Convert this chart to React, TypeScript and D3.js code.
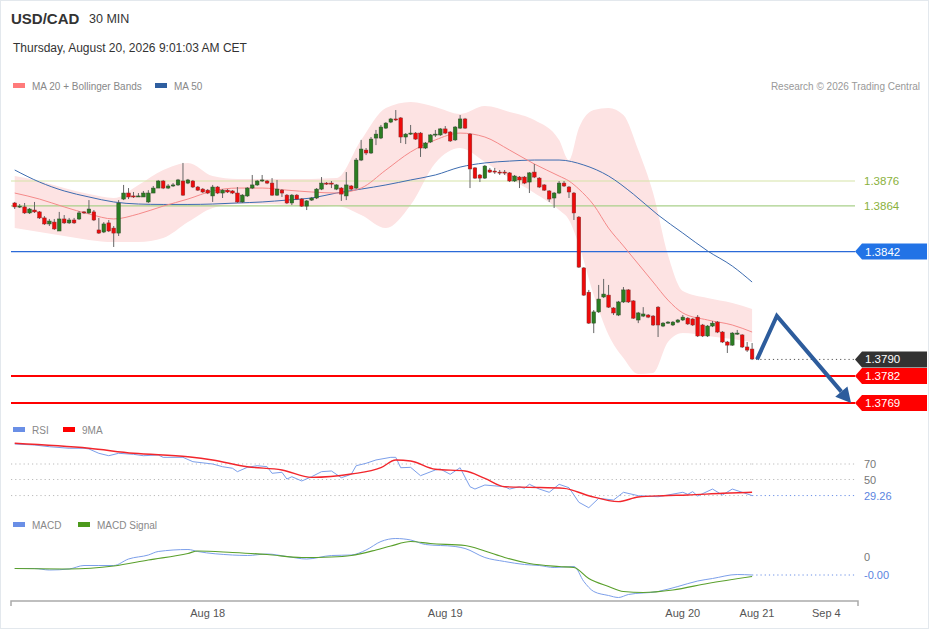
import React from "react";
import * as d3 from "d3";

// 30 min candles, USD/CAD
const opens = [
  1.38654, 1.38635, 1.38635, 1.38606, 1.3862, 1.38611, 1.38582, 1.38553, 1.38562, 1.38519,
  1.38577, 1.38558, 1.38572, 1.38577, 1.38611, 1.38606, 1.38611, 1.38524, 1.38514, 1.38558,
  1.38533, 1.38509, 1.38673, 1.38702, 1.38688, 1.38683, 1.38683, 1.38659, 1.38702, 1.38726,
  1.3876, 1.38726, 1.38736, 1.38741, 1.3876, 1.3875, 1.3876, 1.38731, 1.38721, 1.38716,
  1.38688, 1.38731, 1.38702, 1.38716, 1.38712, 1.38702, 1.38659, 1.38688, 1.38726, 1.38741,
  1.3876, 1.3876, 1.3875, 1.38692, 1.38716, 1.38692, 1.38654, 1.38692, 1.38673, 1.38639,
  1.38668, 1.38678, 1.38721, 1.3875, 1.3875, 1.38721, 1.38726, 1.38688, 1.38736, 1.38726,
  1.38861, 1.38909, 1.38895, 1.38967, 1.38967, 1.39015, 1.39044, 1.39059, 1.39064, 1.38972,
  1.38986, 1.38991, 1.38991, 1.38919, 1.38948, 1.38982, 1.38982, 1.39011, 1.38996, 1.38958,
  1.39015, 1.39059, 1.38986, 1.38823, 1.38789, 1.38774, 1.38813, 1.38808, 1.38803, 1.38803,
  1.38799, 1.3876, 1.38779, 1.38779, 1.38755, 1.38803, 1.38774, 1.38741, 1.38712, 1.38678,
  1.38702, 1.3875, 1.38731, 1.38702, 1.38586, 1.38341, 1.38224, 1.38075, 1.38129, 1.38201,
  1.3821, 1.38148, 1.38114, 1.38177, 1.38235, 1.38182, 1.3809, 1.38109, 1.38114, 1.38109,
  1.38152, 1.38061, 1.38075, 1.38066, 1.3808, 1.3809, 1.38099, 1.38095, 1.38104, 1.38066,
  1.38013, 1.38061, 1.3808, 1.38032, 1.37984, 1.37969, 1.38022, 1.38018, 1.3796, 1.3795,
];
const highs = [
  1.38659, 1.38649, 1.38654, 1.3863, 1.38659, 1.38615, 1.38591, 1.38577, 1.38577, 1.38611,
  1.38596, 1.38582, 1.38582, 1.38615, 1.38615, 1.38668, 1.3862, 1.38582, 1.38562, 1.38572,
  1.38543, 1.38668, 1.38741, 1.38726, 1.38707, 1.38702, 1.38712, 1.38716, 1.38736, 1.38765,
  1.38765, 1.38745, 1.3875, 1.3877, 1.38847, 1.3877, 1.38765, 1.38736, 1.38726, 1.38721,
  1.38741, 1.38736, 1.38721, 1.38721, 1.38716, 1.38731, 1.38697, 1.38731, 1.38789, 1.38765,
  1.38789, 1.38765, 1.38774, 1.38765, 1.38721, 1.38697, 1.38697, 1.38697, 1.38678, 1.38668,
  1.38683, 1.38726, 1.38779, 1.38755, 1.3876, 1.38745, 1.38731, 1.38803, 1.38741, 1.38871,
  1.38958, 1.38919, 1.38972, 1.39006, 1.3903, 1.39044, 1.39064, 1.39102, 1.39068, 1.38991,
  1.3903, 1.38996, 1.38996, 1.38948, 1.38986, 1.39006, 1.39015, 1.39025, 1.39001, 1.39025,
  1.39078, 1.39064, 1.38991, 1.38827, 1.38794, 1.38837, 1.38823, 1.38823, 1.38813, 1.38813,
  1.38803, 1.38789, 1.38784, 1.38784, 1.38803, 1.38842, 1.38779, 1.38745, 1.38716, 1.38707,
  1.3876, 1.3876, 1.38736, 1.38707, 1.38591, 1.38345, 1.38235, 1.38138, 1.38259, 1.38288,
  1.38259, 1.38152, 1.38182, 1.38249, 1.38239, 1.38186, 1.38129, 1.38152, 1.38119, 1.38114,
  1.38157, 1.3808, 1.38085, 1.38085, 1.38095, 1.38114, 1.38104, 1.38099, 1.38114, 1.38071,
  1.38066, 1.38085, 1.38085, 1.38037, 1.37989, 1.38032, 1.38042, 1.38022, 1.37984, 1.37979,
];
const lows = [
  1.38625, 1.3863, 1.38601, 1.38601, 1.38606, 1.38577, 1.38548, 1.38543, 1.38524, 1.38519,
  1.38553, 1.38553, 1.38553, 1.38572, 1.38601, 1.38601, 1.38567, 1.38505, 1.38509, 1.38514,
  1.38442, 1.38495, 1.38668, 1.38673, 1.38678, 1.38683, 1.38683, 1.38654, 1.38702, 1.38726,
  1.38721, 1.38721, 1.38731, 1.38736, 1.38688, 1.38745, 1.38726, 1.38712, 1.38702, 1.38697,
  1.38659, 1.38697, 1.38678, 1.38702, 1.38697, 1.38654, 1.38654, 1.38683, 1.38721, 1.38736,
  1.38755, 1.38745, 1.38688, 1.38688, 1.38683, 1.38649, 1.38644, 1.38668, 1.38635, 1.3862,
  1.38664, 1.38673, 1.38716, 1.38741, 1.38726, 1.38716, 1.38664, 1.38668, 1.38716, 1.38721,
  1.38856, 1.38885, 1.3889, 1.38933, 1.38962, 1.39011, 1.39039, 1.39049, 1.38943, 1.38938,
  1.38982, 1.38958, 1.38876, 1.38914, 1.38943, 1.38972, 1.38977, 1.38986, 1.38948, 1.38953,
  1.39011, 1.39011, 1.38726, 1.3877, 1.38755, 1.3877, 1.38799, 1.38794, 1.38789, 1.38789,
  1.38755, 1.38755, 1.38726, 1.38745, 1.38702, 1.38774, 1.38726, 1.38712, 1.38659, 1.3863,
  1.38697, 1.38731, 1.38678, 1.38572, 1.38341, 1.38206, 1.38071, 1.38027, 1.38124, 1.38196,
  1.38148, 1.38114, 1.38109, 1.38172, 1.38172, 1.38095, 1.38075, 1.38104, 1.38099, 1.38061,
  1.38008, 1.38056, 1.38071, 1.38061, 1.38075, 1.38085, 1.38066, 1.38061, 1.38008, 1.38008,
  1.38008, 1.38056, 1.38027, 1.37979, 1.37931, 1.37965, 1.38018, 1.37955, 1.37936, 1.37897,
];
const closes = [
  1.38635, 1.38639, 1.38606, 1.38625, 1.38611, 1.38582, 1.38553, 1.38567, 1.38529, 1.38577,
  1.38558, 1.38572, 1.38558, 1.38606, 1.38606, 1.38625, 1.38572, 1.38509, 1.38553, 1.38519,
  1.38509, 1.38654, 1.38702, 1.38683, 1.38683, 1.38688, 1.38702, 1.38702, 1.38726, 1.3876,
  1.38726, 1.38736, 1.38741, 1.38765, 1.38692, 1.38765, 1.38731, 1.38716, 1.38707, 1.38702,
  1.38731, 1.38702, 1.38716, 1.38707, 1.38702, 1.38659, 1.38692, 1.38726, 1.38741, 1.3876,
  1.38765, 1.3875, 1.38692, 1.38721, 1.38702, 1.38654, 1.38692, 1.38673, 1.38639, 1.38664,
  1.38678, 1.38721, 1.3875, 1.38745, 1.38745, 1.38741, 1.38697, 1.38741, 1.38721, 1.38861,
  1.38914, 1.38895, 1.38962, 1.38986, 1.3902, 1.39039, 1.39059, 1.39054, 1.38972, 1.38986,
  1.38991, 1.38962, 1.38919, 1.38943, 1.38982, 1.38986, 1.39011, 1.38991, 1.38953, 1.3902,
  1.39059, 1.39015, 1.38818, 1.38774, 1.38774, 1.38832, 1.38803, 1.38803, 1.38799, 1.38799,
  1.3876, 1.38784, 1.38765, 1.3875, 1.38799, 1.38779, 1.38731, 1.38716, 1.38673, 1.38702,
  1.3875, 1.38736, 1.38707, 1.38606, 1.38345, 1.3821, 1.38075, 1.38129, 1.38191, 1.38215,
  1.38152, 1.38124, 1.38177, 1.38235, 1.38177, 1.38099, 1.38124, 1.38119, 1.38104, 1.38066,
  1.38066, 1.38075, 1.3808, 1.3808, 1.3809, 1.38104, 1.38071, 1.38066, 1.38013, 1.38013,
  1.38061, 1.38075, 1.38032, 1.37984, 1.37969, 1.38027, 1.38027, 1.3796, 1.37945, 1.37902,
];

// MA 20 + Bollinger bands, read at these bars
const bandBars = [0, 5, 10, 15, 20, 25, 30, 35, 40, 45, 50, 55, 60, 65, 70, 75, 80, 85, 90, 95, 100, 105, 110, 112, 114, 117, 120, 123, 126, 129, 132, 135, 140, 145, 149];
const ma20 = [
  1.38702, 1.38673, 1.38635, 1.38601, 1.38577, 1.38601, 1.38639, 1.38673, 1.38712, 1.38726,
  1.38726, 1.38716, 1.38707, 1.38702, 1.38726, 1.38813, 1.389, 1.38958, 1.38991, 1.38972,
  1.38909, 1.38842, 1.38784, 1.3876, 1.38721, 1.38644, 1.38533, 1.38447, 1.3836, 1.38273,
  1.38186, 1.38124, 1.3809, 1.38066, 1.38032,
];
const bbUpper = [
  1.38784, 1.3876, 1.38726, 1.38697, 1.38678, 1.38741, 1.38813, 1.38847, 1.38784, 1.3877,
  1.3877, 1.3877, 1.3877, 1.38774, 1.38958, 1.39112, 1.39141, 1.39117, 1.39083, 1.39121,
  1.39093, 1.39054, 1.38958, 1.38861, 1.39015, 1.39102, 1.39112, 1.39078, 1.38909, 1.38702,
  1.38403, 1.3823, 1.38196, 1.38172, 1.38143,
];
const bbLower = [
  1.38533, 1.38514, 1.38495, 1.38476, 1.38466, 1.38466, 1.38485, 1.38562, 1.3863, 1.38649,
  1.38649, 1.38644, 1.38635, 1.38639, 1.38596, 1.38533, 1.38644, 1.38847, 1.38919, 1.38852,
  1.38774, 1.38702, 1.3862, 1.38572, 1.38452, 1.3821, 1.38018, 1.37907, 1.3783, 1.37835,
  1.37984, 1.38027, 1.38013, 1.37998, 1.37984,
];

// MA 50
const ma50Bars = [0, 5, 10, 15, 20, 25, 30, 35, 40, 45, 50, 55, 60, 65, 70, 75, 80, 85, 90, 95, 100, 105, 110, 115, 120, 125, 130, 135, 140, 145, 149];
const ma50 = [
  1.38813, 1.38755, 1.38712, 1.38683, 1.38659, 1.38649, 1.38647, 1.38647, 1.38649, 1.38654,
  1.38659, 1.38668, 1.38678, 1.38702, 1.38721, 1.38741, 1.38765, 1.38789, 1.38827, 1.38847,
  1.38856, 1.38861, 1.38861, 1.38837, 1.38784, 1.38697, 1.38596, 1.38509, 1.38423, 1.3835,
  1.38273,
];

// key levels
const greenLevels = [1.3876, 1.3864];
const pivotLevel = 1.3842;
const lastPrice = 1.379;
const supportLevels = [1.3782, 1.3769];

// forecast path
const forecastBars = [150, 154, 169];
const forecastPrices = [1.379, 1.3811, 1.3769];

// RSI and its 9 period average
const rsiBars = [0, 4, 7, 11, 14, 15, 17, 19, 21, 24, 26, 29, 30, 34, 36, 40, 42, 44, 45, 47, 49, 51, 52, 54, 55, 56, 58, 60, 62, 64, 66, 68, 69, 71, 73, 76, 77, 78, 80, 82, 85, 86, 88, 90, 92, 93, 95, 99, 100, 102, 103, 104, 106, 108, 110, 112, 114, 116, 118, 121, 123, 126, 130, 132, 135, 136, 137, 138, 141, 143, 145, 147, 149];
const rsi = [95.8, 94.5, 92.3, 90.3, 90.3, 89.4, 83.8, 80.7, 83.8, 82.5, 80.7, 81.6, 78.6, 78.6, 73.0, 70.0, 66.5, 64.5, 60.1, 65.7, 67.8, 66.5, 58.0, 59.3, 50.6, 53.6, 48.1, 53.6, 60.1, 61.0, 52.3, 56.7, 67.8, 70.9, 75.2, 78.6, 78.6, 65.2, 65.7, 54.9, 62.3, 63.5, 56.7, 65.2, 40.7, 37.7, 42.9, 40.7, 37.7, 40.7, 38.6, 43.8, 37.7, 33.5, 43.8, 39.4, 20.6, 13.6, 25.7, 23.5, 33.5, 29.1, 27.8, 30.0, 33.5, 30.9, 34.3, 28.7, 37.7, 30.0, 37.7, 33.5, 29.26];
const rsiMaBars = [0, 15, 24, 35, 40, 47, 54, 60, 68, 74, 77, 80, 85, 91, 95, 99, 104, 111, 116, 122, 126, 131, 136, 143, 149];
const rsiMa = [96.7, 90.3, 83.8, 79.4, 75.2, 66.5, 62.3, 52.8, 57.1, 65.2, 75.2, 73.9, 63.2, 61.0, 51.5, 40.7, 39.9, 38.6, 29.1, 21.4, 27.4, 29.1, 30.0, 32.2, 33.5];
const rsiLevels = [70, 50];
const rsiLast = 29.26;

// MACD
const macdBars = [0, 4, 7, 11, 14, 17, 20, 23, 27, 29, 35, 37, 44, 47, 51, 55, 59, 64, 68, 71, 74, 77, 80, 83, 89, 91, 95, 99, 103, 106, 109, 113, 115, 117, 120, 122, 124, 130, 134, 138, 141, 146, 149];
const macd = [-0.00023, -0.00023, -0.00026, -0.00024, -0.00017, -0.00017, -0.00017, -0.00004, 0.00004, 0.00011, 0.00015, 0.00011, 0.00004, 0.00003, 0.00006, 0.00001, -0.00004, 0.00003, 0.00004, 0.00014, 0.00031, 0.00037, 0.00034, 0.00025, 0.00021, 0.00017, -0.00001, -0.00009, -0.00015, -0.00017, -0.00021, -0.00019, -0.00049, -0.00069, -0.00077, -0.00081, -0.00075, -0.00069, -0.00059, -0.00048, -0.00043, -0.00035, -0.00036];
const signalBars = [0, 11, 20, 27, 35, 37, 44, 51, 58, 64, 68, 73, 76, 80, 84, 91, 95, 99, 104, 110, 113, 116, 120, 123, 127, 133, 140, 149];
const signal = [-0.00023, -0.00024, -0.00018, -0.00006, 0.00007, 0.00012, 0.00009, 0.00005, -0.00001, 0.0, 0.00003, 0.00014, 0.00022, 0.00031, 0.00027, 0.00023, 0.00012, -0.00001, -0.00013, -0.00019, -0.00021, -0.00043, -0.00059, -0.00069, -0.00071, -0.00066, -0.00053, -0.00039];

// time axis
const xTickBars = [39, 87, 135, 150, 164];
const xTickLabels = ["Aug 18", "Aug 19", "Aug 20", "Aug 21", "Sep 4"];

const FONT = "'Liberation Sans', Arial, sans-serif";
const RIGHT = 855;

const x = d3.scaleLinear().domain([-0.75, 170.4]).range([11, 858]);
const yP = d3.scaleLinear().domain([1.3769, 1.3876]).range([403, 181]);
const yR = d3.scaleLinear().domain([50, 70]).range([479.5, 464]);
const yM = d3.scaleLinear().domain([0, 0.0002]).range([557, 547]);
const fmt = d3.format(".4f");

const linePath = (
  bars: number[],
  vals: number[],
  ys: (v: number) => number,
  curve: d3.CurveFactory = d3.curveMonotoneX
) =>
  d3
    .line<number>()
    .x((_, i) => x(bars[i]))
    .y((v) => ys(v))
    .curve(curve)(vals) || "";

const Tag = ({ y, text, fill }: { y: number; text: string; fill: string }) => (
  <g>
    <path
      d={`M${RIGHT},${y} L${RIGHT + 7},${y - 8} L927,${y - 8} L927,${y + 8} L${RIGHT + 7},${y + 8} Z`}
      fill={fill}
    />
    <text x={RIGHT + 10} y={y + 4} fill="#fff" fontSize={11.5}>
      {text}
    </text>
  </g>
);

const Legend = ({ x0, y, items }: { x0: number; y: number; items: { label: string; color: string; w: number }[] }) => {
  let cx = x0;
  return (
    <g fontSize={10} fill="#888">
      {items.map((it) => {
        const g = (
          <g key={it.label}>
            <rect x={cx} y={y - 3} width={12} height={5} fill={it.color} />
            <text x={cx + 19} y={y + 3.5}>
              {it.label}
            </text>
          </g>
        );
        cx += it.w;
        return g;
      })}
    </g>
  );
};

const App: React.FC = () => {
  const bandArea =
    d3
      .area<number>()
      .x((_, i) => x(bandBars[i]))
      .y0((_, i) => yP(bbLower[i]))
      .y1((v) => yP(v))
      .curve(d3.curveMonotoneX)(bbUpper) || "";

  // forecast arrow
  const fp = forecastBars.map((b, i) => [x(b), yP(forecastPrices[i])] as [number, number]);
  const [p1, p2] = [fp[1], fp[2]];
  const dx = p2[0] - p1[0];
  const dy = p2[1] - p1[1];
  const len = Math.hypot(dx, dy);
  const ux = dx / len;
  const uy = dy / len;
  const headL = 15;
  const headW = 8;
  const base: [number, number] = [p2[0] - ux * headL, p2[1] - uy * headL];
  const arrowLine = `M${fp[0][0]},${fp[0][1]} L${p1[0]},${p1[1]} L${base[0]},${base[1]}`;
  const head = `M${p2[0]},${p2[1]} L${base[0] - uy * headW},${base[1] + ux * headW} L${base[0] + uy * headW},${base[1] - ux * headW} Z`;

  const lastX = x(closes.length - 1);
  const macdLast = macd[macd.length - 1];

  return (
    <>
      <style>{"body{margin:0}"}</style>
      <svg width={929} height={629} fontFamily={FONT} style={{ display: "block" }}>
        <rect x={0.5} y={0.5} width={928} height={628} fill="#fff" stroke="#e3e8ed" />

        {/* header */}
        <text x={11} y={24} fontSize={15} fontWeight="bold" fill="#333">
          USD/CAD
        </text>
        <text x={89} y={23} fontSize={12.5} fill="#333">
          30 MIN
        </text>
        <text x={13} y={52} fontSize={12} fill="#333">
          Thursday, August 20, 2026 9:01:03 AM CET
        </text>
        <Legend
          x0={13}
          y={86}
          items={[
            { label: "MA 20 + Bollinger Bands", color: "#ff7b7b", w: 142 },
            { label: "MA 50", color: "#2f5fa0", w: 60 },
          ]}
        />
        <text x={920} y={89.5} fontSize={10} fill="#999" textAnchor="end">
          Research © 2026 Trading Central
        </text>

        {/* price panel */}
        <path d={bandArea} fill="#fde3e3" />
        <line x1={11} x2={RIGHT} y1={yP(greenLevels[0])} y2={yP(greenLevels[0])} stroke="#d6e3a8" strokeWidth={1.2} />
        <line x1={11} x2={RIGHT} y1={yP(greenLevels[1])} y2={yP(greenLevels[1])} stroke="#a9d08a" strokeWidth={1.2} />
        <line x1={11} x2={RIGHT} y1={yP(pivotLevel)} y2={yP(pivotLevel)} stroke="#2b6ad8" strokeWidth={1.3} />
        {supportLevels.map((p) => (
          <line key={p} x1={11} x2={RIGHT} y1={yP(p)} y2={yP(p)} stroke="#f00" strokeWidth={2} />
        ))}
        <line
          x1={lastX + 4}
          x2={RIGHT}
          y1={yP(lastPrice)}
          y2={yP(lastPrice)}
          stroke="#555"
          strokeDasharray="1.2 3"
        />
        <path d={linePath(ma50Bars, ma50, yP)} fill="none" stroke="#3d6cb0" strokeWidth={1} />
        <path d={linePath(bandBars, ma20, yP)} fill="none" stroke="#f58a8a" strokeWidth={1} />

        {closes.map((c, i) => {
          const o = opens[i];
          const up = c >= o;
          const top = yP(Math.max(o, c));
          const h = Math.max(1, Math.abs(yP(o) - yP(c)));
          return (
            <g key={i}>
              <line x1={x(i)} x2={x(i)} y1={yP(highs[i])} y2={yP(lows[i])} stroke="#666" strokeWidth={1} />
              <rect
                x={x(i) - 1.8}
                y={top}
                width={3.6}
                height={h}
                fill={up ? "#2b7d22" : "#ee0a0a"}
                stroke={up ? "#2e4a2a" : "#8a2a2a"}
                strokeWidth={0.5}
              />
            </g>
          );
        })}

        <path d={arrowLine} fill="none" stroke="#2d5c9c" strokeWidth={4} strokeLinejoin="miter" />
        <path d={head} fill="#2d5c9c" />

        {greenLevels.map((p) => (
          <text key={p} x={RIGHT + 9} y={yP(p) + 4} fontSize={11.5} fill="#8ab13c">
            {fmt(p)}
          </text>
        ))}
        <Tag y={yP(pivotLevel)} text={fmt(pivotLevel)} fill="#2273e6" />
        <Tag y={yP(lastPrice)} text={fmt(lastPrice)} fill="#333" />
        {supportLevels.map((p) => (
          <Tag key={p} y={yP(p)} text={fmt(p)} fill="#f00" />
        ))}

        {/* RSI panel */}
        <Legend
          x0={13}
          y={430}
          items={[
            { label: "RSI", color: "#6a8fe6", w: 50 },
            { label: "9MA", color: "#f00", w: 50 },
          ]}
        />
        {[...rsiLevels, rsiLast].map((v) => (
          <line key={v} x1={11} x2={lastX} y1={yR(v)} y2={yR(v)} stroke="#bbb" strokeDasharray="1.2 3" />
        ))}
        {rsiLevels.map((v) => (
          <line key={v} x1={lastX} x2={RIGHT} y1={yR(v)} y2={yR(v)} stroke="#bbb" strokeDasharray="1.2 3" />
        ))}
        <line x1={lastX} x2={RIGHT} y1={yR(rsiLast)} y2={yR(rsiLast)} stroke="#6a8fe6" strokeDasharray="1.2 3" />
        <path d={linePath(rsiBars, rsi, yR, d3.curveLinear)} fill="none" stroke="#7c9fea" strokeWidth={1} />
        <path d={linePath(rsiMaBars, rsiMa, yR)} fill="none" stroke="#f2262c" strokeWidth={1.4} />
        {rsiLevels.map((v) => (
          <text key={v} x={RIGHT + 9} y={yR(v) + 4} fontSize={11} fill="#777">
            {v}
          </text>
        ))}
        <text x={RIGHT + 9} y={yR(rsiLast) + 4} fontSize={11} fill="#5b84e0">
          {rsiLast.toFixed(2)}
        </text>

        {/* MACD panel */}
        <Legend
          x0={13}
          y={525}
          items={[
            { label: "MACD", color: "#6a8fe6", w: 65 },
            { label: "MACD Signal", color: "#4c9a1c", w: 90 },
          ]}
        />
        <line
          x1={lastX}
          x2={RIGHT}
          y1={yM(macdLast)}
          y2={yM(macdLast)}
          stroke="#6a8fe6"
          strokeDasharray="1.2 3"
        />
        <path d={linePath(macdBars, macd, yM)} fill="none" stroke="#7c9fea" strokeWidth={1} />
        <path d={linePath(signalBars, signal, yM)} fill="none" stroke="#5aa02c" strokeWidth={1.2} />
        <text x={RIGHT + 9} y={yM(0) + 4} fontSize={11} fill="#777">
          0
        </text>
        <text x={RIGHT + 9} y={yM(macdLast) + 4} fontSize={11} fill="#5b84e0">
          {macdLast.toFixed(2)}
        </text>

        {/* time axis */}
        <path d="M11,606 V601 H858 V606" fill="none" stroke="#aaa" strokeWidth={1.5} />
        {xTickBars.map((b, i) => (
          <text key={b} x={x(b)} y={617} fontSize={11} fill="#555" textAnchor="middle">
            {xTickLabels[i]}
          </text>
        ))}
      </svg>
    </>
  );
};

export default App;
